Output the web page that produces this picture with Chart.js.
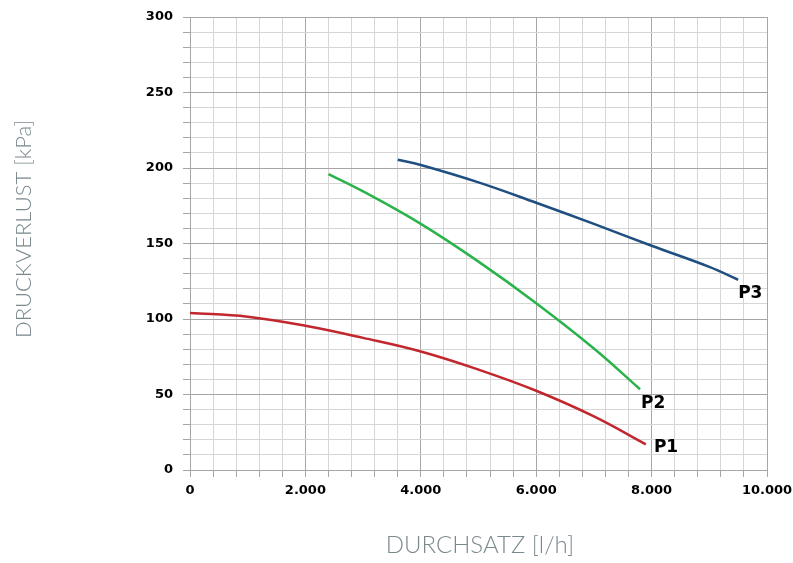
<!DOCTYPE html>
<html><head><meta charset="utf-8">
<script src="https://cdn.jsdelivr.net/npm/chart.js@4/dist/chart.umd.min.js"></script>
<style>html,body{margin:0;padding:0;background:#fff}#wrap{width:793px;height:563px}</style>
</head><body><div id="wrap"><canvas id="c" width="793" height="563"></canvas></div>
<script>
const p1X = [0, 1000, 2000, 3000, 4000, 5000, 6000, 7000, 7900];
const p1Y = [104, 101.5, 95.5, 87.5, 78.5, 66.5, 52.5, 35.5, 17];
const p2X = [2400, 3000, 4000, 5000, 6000, 7000, 7800];
const p2Y = [196, 184.5, 163, 138, 110.5, 80.5, 53.5];
const p3X = [3600, 4000, 5000, 6000, 7000, 8000, 9000, 9500];
const p3Y = [205.5, 202, 190.5, 177, 163, 148.5, 134.5, 126];
const seriesNames = ['P1', 'P2', 'P3'];
const labelX = [8040, 7815, 9500];
const labelY = [15, 44, 117];
const xTitle = 'DURCHSATZ [l/h]';
const yTitle = 'DRUCKVERLUST [kPa]';

const pts = (xs, ys) => xs.map((x, i) => ({x: x, y: ys[i]}));
const fmt = v => String(v).replace(/\B(?=(\d{3})+(?!\d))/g, '.');
const titleColor = '#7a898e';

const labelPlugin = {
  id: 'seriesLabels',
  afterDatasetsDraw(chart) {
    const ctx = chart.ctx, xs = chart.scales.x, ys = chart.scales.y;
    ctx.save();
    ctx.font = 'bold 17px "DejaVu Sans", sans-serif';
    ctx.fillStyle = '#000';
    ctx.textAlign = 'left';
    ctx.textBaseline = 'middle';
    seriesNames.forEach((n, i) => ctx.fillText(n, xs.getPixelForValue(labelX[i]), ys.getPixelForValue(labelY[i])));
    // axis titles
    ctx.fillStyle = titleColor;
    ctx.textAlign = 'center';
    ctx.textBaseline = 'alphabetic';
    ctx.font = '300 24px Lato, "Open Sans", sans-serif';
    ctx.fillText(xTitle, 480, 553);
    ctx.font = '300 22px Lato, "Open Sans", sans-serif';
    ctx.translate(31, 229);
    ctx.rotate(-Math.PI / 2);
    ctx.fillText(yTitle, 0, 0);
    ctx.restore();
  }
};

const major = '#a6a6a6', minor = '#d6d6d6';
const tickFont = {family: '"DejaVu Sans", sans-serif', size: 13, weight: 'bold'};
new Chart(document.getElementById('c'), {
  type: 'scatter',
  data: {
    datasets: [
      {label: 'P1', data: pts(p1X, p1Y), borderColor: '#c1272d'},
      {label: 'P2', data: pts(p2X, p2Y), borderColor: '#2ab34b'},
      {label: 'P3', data: pts(p3X, p3Y), borderColor: '#1f4e80'}
    ].map(d => Object.assign(d, {showLine: true, pointRadius: 0, borderWidth: 2.5, tension: 0.4, fill: false}))
  },
  options: {
    responsive: false, animation: false,
    layout: {padding: {top: 17, right: 26, left: 0, bottom: 0}},
    plugins: {legend: {display: false}, tooltip: {enabled: false}},
    scales: {
      x: {
        type: 'linear', min: 0, max: 10000,
        afterFit: s => { s.height = 93; s.paddingLeft = 0; s.paddingRight = 0; },
        ticks: {stepSize: 400, autoSkip: false, maxRotation: 0, padding: 6, color: '#000', font: tickFont,
          callback: v => v % 2000 === 0 ? fmt(v) : ''},
        grid: {color: c => c.tick && c.tick.value % 2000 === 0 ? major : minor, tickLength: 7, tickColor: major, lineWidth: 1},
        border: {color: major}
      },
      y: {
        type: 'linear', min: 0, max: 300,
        afterFit: s => { s.width = 190; s.paddingTop = 0; s.paddingBottom = 0; },
        ticks: {stepSize: 10, autoSkip: false, padding: 10, color: '#000', font: tickFont,
          callback: v => v % 50 === 0 ? String(v) : ''},
        grid: {color: c => c.tick && c.tick.value % 50 === 0 ? major : minor, tickLength: 7, tickColor: major, lineWidth: 1},
        border: {color: major}
      }
    }
  },
  plugins: [labelPlugin]
});
</script></body></html>
